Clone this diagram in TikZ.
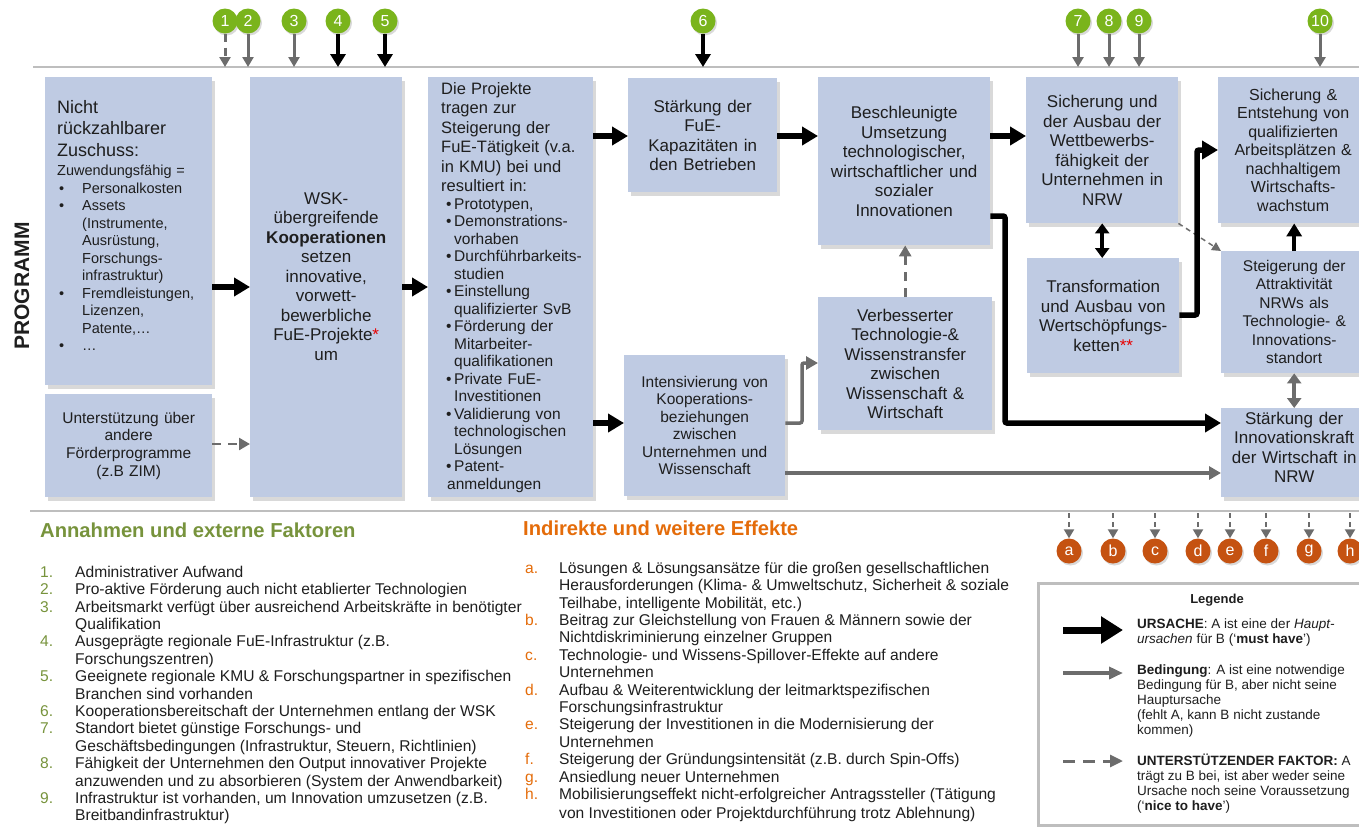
\documentclass[tikz,border=0pt]{standalone}
\usepackage{fontspec}
\setmainfont{Liberation Sans}
\usetikzlibrary{arrows.meta,shadows}

\definecolor{boxblue}{RGB}{191,203,227}
\definecolor{txt}{RGB}{30,30,30}
\definecolor{greenc}{RGB}{122,180,28}
\definecolor{orangec}{RGB}{197,82,17}
\definecolor{headgreen}{RGB}{119,147,60}
\definecolor{headorange}{RGB}{228,108,10}
\definecolor{arrowgray}{RGB}{108,108,108}
\definecolor{linegray}{RGB}{190,190,190}
\definecolor{starred}{RGB}{232,0,0}

% bullets in the funding box and in the project box
\newcommand{\zbul}{\hspace*{2pt}\makebox[23pt][l]{\textbullet}}
\newcommand{\zind}{\hspace*{25pt}}
\newcommand{\pbul}{\hspace*{5pt}\makebox[8pt][l]{\textbullet}}
\newcommand{\pind}{\hspace*{13pt}}

\begin{document}
\begin{tikzpicture}[x=1pt, y=-1pt,
  box/.style={anchor=north west, fill=boxblue, text=txt, inner xsep=6pt, inner ysep=0pt,
    align=center, font=\fontsize{17}{19.5}\selectfont,
    drop shadow={shadow xshift=2.5pt, shadow yshift=-3.5pt, opacity=.3}},
  numc/.style={circle, fill=greenc, text=white, minimum size=25pt, inner sep=0pt,
    font=\fontsize{16}{16}\selectfont,
    drop shadow={shadow xshift=1.5pt, shadow yshift=-2pt, opacity=.3}},
  letc/.style={numc, fill=orangec},
  cause/.style={line width=5.5pt, rounded corners=2pt, -{Triangle[length=16pt,width=18pt]}},
  cond/.style={draw=arrowgray, line width=3.5pt, rounded corners=2pt, -{Triangle[length=12pt,width=13pt]}},
  support/.style={draw=arrowgray, line width=3pt, dash pattern=on 9pt off 7pt, -{Triangle[length=11pt,width=12pt]}},
  tcause/.style={line width=4pt, -{Triangle[length=13pt,width=15pt]}},
  tcond/.style={draw=arrowgray, line width=3pt, -{Triangle[length=10pt,width=11pt]}},
  tsupport/.style={tcond, dash pattern=on 8pt off 6pt},
  bsupport/.style={draw=arrowgray, line width=2pt, dash pattern=on 5pt off 4pt, -{Triangle[length=9pt,width=10pt]}},
  sep/.style={draw=linegray, line width=1.5pt},
  list/.style={anchor=north west, inner sep=0pt, text=txt, font=\fontsize{15.6}{17.4}\selectfont},
  legtxt/.style={anchor=north west, inner sep=0pt, align=left, text=txt, font=\fontsize{13.5}{15}\selectfont}]

\useasboundingbox (0,0) rectangle (1359,828);

% separators
\coordinate (top) at (0,67);
\coordinate (bot) at (0,511);
\draw[sep] (33,67) -- (1359,67);
\draw[sep] (30,511) -- (1359,511);

\node[rotate=90, text=txt, font=\bfseries\fontsize{21}{21}\selectfont] (prog) at (22,286) {PROGRAMM};

% program boxes
\node[box, minimum width=167, minimum height=308, text width=143, inner xsep=12pt, align=left,
  font=\fontsize{14.5}{17.5}\selectfont] (A) at (45,77)
  {{\fontsize{18}{21.5}\selectfont Nicht\\rückzahlbarer\\Zuschuss:\par}
   \vspace{2pt}Zuwendungsfähig =\\
   \zbul Personalkosten\\
   \zbul Assets\\
   \zind(Instrumente,\\
   \zind Ausrüstung,\\
   \zind Forschungs-\\
   \zind infrastruktur)\\
   \zbul Fremdleistungen,\\
   \zind Lizenzen,\\
   \zind Patente,…\\
   \zbul …\\[-6pt]\mbox{}};
\node[box, minimum width=167, minimum height=103, text width=155,
  font=\fontsize{15.5}{17.7}\selectfont] (B) at (45,394)
  {Unterstützung über\\andere\\Förderprogramme\\(z.B ZIM)};
\node[box, minimum width=152, minimum height=420, text width=140] (C) at (250,77)
  {WSK-\\übergreifende\\\textbf{Kooperationen}\\setzen\\innovative,\\vorwett-\\bewerbliche\\
   FuE-Projekte\textcolor{starred}{*}\\um\\[2pt]\mbox{}};
\node[box, minimum width=165, minimum height=420, text width=153, align=left,
  font=\fontsize{15.5}{17.5}\selectfont] (D) at (428,77)
  {\leftskip=7pt\relax
   {\fontsize{16.5}{19.5}\selectfont Die Projekte\\tragen zur\\Steigerung der\\FuE-Tätigkeit (v.a.\\
    in KMU) bei und\\resultiert in:\par}
   \pbul Prototypen,\\
   \pbul Demonstrations-\\\pind vorhaben\\
   \pbul Durchführbarkeits-\\\pind studien\\
   \pbul Einstellung\\\pind qualifizierter SvB\\
   \pbul Förderung der\\\pind Mitarbeiter-\\\pind qualifikationen\\
   \pbul Private FuE-\\\pind Investitionen\\
   \pbul Validierung von\\\pind technologischen\\\pind Lösungen\\
   \pbul Patent-\\\pind anmeldungen};

% results
\node[box, minimum width=149, minimum height=114, text width=137] (E) at (628,78)
  {Stärkung der\\FuE-\\Kapazitäten in\\den Betrieben};
\node[box, minimum width=172, minimum height=168, text width=160] (F) at (818,77)
  {Beschleunigte\\Umsetzung\\technologischer,\\wirtschaftlicher und\\sozialer\\Innovationen};
\node[box, minimum width=161, minimum height=141, text width=149,
  font=\fontsize{15.5}{17.5}\selectfont] (G) at (624,355)
  {Intensivierung von\\Kooperations-\\beziehungen\\zwischen\\Unternehmen und\\Wissenschaft};
\node[box, minimum width=174, minimum height=133, text width=162] (H) at (818,297)
  {Verbesserter\\Technologie-\&\\Wissenstransfer\\zwischen\\Wissenschaft \&\\Wirtschaft};
\node[box, minimum width=152, minimum height=146, text width=140] (I) at (1026,77)
  {Sicherung und\\der Ausbau der\\Wettbewerbs-\\fähigkeit der\\Unternehmen in\\NRW};
\node[box, minimum width=152, minimum height=115, text width=140] (J) at (1027,258)
  {Transformation\\und Ausbau von\\Wertschöpfungs-\\ketten\textcolor{starred}{**}};
\node[box, minimum width=150, minimum height=146, text width=138,
  font=\fontsize{16}{18.5}\selectfont] (K) at (1218,77)
  {Sicherung \&\\Entstehung von\\qualifizierten\\Arbeitsplätzen \&\\nachhaltigem\\Wirtschafts-\\wachstum};
\node[box, minimum width=146, minimum height=122, text width=134,
  font=\fontsize{15.5}{18.5}\selectfont] (L) at (1221,251)
  {Steigerung der\\Attraktivität\\NRWs als\\Technologie- \&\\Innovations-\\standort};
\node[box, minimum width=146, minimum height=89, text width=134] (M) at (1221,408)
  {Stärkung der\\Innovationskraft\\der Wirtschaft in\\NRW\\[-9pt]\mbox{}};

% rows and columns of the connectors
\coordinate (rA) at (0,287);
\coordinate (rB) at (0,444);
\coordinate (rE) at (0,136);
\coordinate (rF) at (0,216);
\coordinate (rG) at (0,423);
\coordinate (rH) at (0,363);
\coordinate (rM) at (0,473);
\coordinate (rJ) at (0,315);
\coordinate (rK) at (0,150);
\coordinate (cF) at (1005,0);
\coordinate (cG) at (802,0);
\coordinate (cJ) at (1197,0);

\draw[cause] (A.east |- rA) -- (C.west |- rA);
\draw[support, line width=2.5pt] (B.east |- rB) -- (C.west |- rB);
\draw[cause] (C.east |- rA) -- (D.west |- rA);
\draw[cause] (D.east |- rE) -- (E.west |- rE);
\draw[cause] (E.east |- rE) -- (F.west |- rE);
\draw[cause] (F.east |- rE) -- (I.west |- rE);
\draw[cause] (D.east |- rG) -- (G.west |- rG);
\draw[cause] (F.east |- rF) -| (cF |- rG) -- (M.west |- rG);
\draw[cond] (G.east |- rG) -| (cG |- rH) -- (H.west |- rH);
\draw[cond] (G.east |- rM) -- (M.west |- rM);
\draw[support] (H.north) -- (H.north |- F.south);
\draw[line width=4pt, {Triangle[length=10pt,width=14pt]}-{Triangle[length=10pt,width=14pt]}] (I.south) -- (I.south |- J.north);
\draw[draw=arrowgray, line width=1.5pt, dash pattern=on 5pt off 4pt, -{Triangle[length=9pt,width=9pt]}] (I.south east) -- (L.north west);
\draw[cause] (J.east |- rJ) -| (cJ |- rK) -- (K.west |- rK);
\draw[tcause] (L.north) -- (L.north |- K.south);
\draw[draw=arrowgray, line width=4pt, {Triangle[length=10pt,width=14pt]}-{Triangle[length=10pt,width=14pt]}] (L.south) -- (L.south |- M.north);

% assumptions on top
\foreach \n/\x in {1/225,2/248,3/294,4/338,5/385,6/703,7/1078,8/1109,9/1139,10/1320}
  \node[numc] (asm\n) at (\x,21) {\n};
\draw[tsupport] (asm1) -- (asm1 |- top);
\draw[tcond] (asm2) -- (asm2 |- top);
\draw[tcond] (asm3) -- (asm3 |- top);
\draw[tcause] (asm4) -- (asm4 |- top);
\draw[tcause] (asm5) -- (asm5 |- top);
\draw[tcause] (asm6) -- (asm6 |- top);
\foreach \n in {7,8,9,10}
  \draw[tcond] (asm\n) -- (asm\n |- top);

% indirect effects below
\foreach \l/\x in {a/1069,b/1113,c/1155,d/1198,e/1230,f/1266,g/1309,h/1350} {
  \node[letc] (eff\l) at (\x,551) {\l};
  \draw[bsupport, shorten <=2pt] (eff\l |- bot) -- (eff\l);
}

% lists
\node[anchor=base west, inner sep=0pt, text=headgreen, font=\bfseries\fontsize{20.2}{20}\selectfont]
  (headA) at (40,537) {Annahmen und externe Faktoren};
\node[anchor=base west, inner sep=0pt, text=headorange, font=\bfseries\fontsize{20.2}{20}\selectfont]
  (headB) at (523,535) {Indirekte und weitere Effekte};

\node[list] (assume) at (40,565) {\begin{tabular}{@{}p{35pt}@{}l@{}}
  \textcolor{headgreen}{1.} & Administrativer Aufwand\\
  \textcolor{headgreen}{2.} & Pro-aktive Förderung auch nicht etablierter Technologien\\
  \textcolor{headgreen}{3.} & Arbeitsmarkt verfügt über ausreichend Arbeitskräfte in benötigter\\
   & Qualifikation\\
  \textcolor{headgreen}{4.} & Ausgeprägte regionale FuE-Infrastruktur (z.B.\\
   & Forschungszentren)\\
  \textcolor{headgreen}{5.} & Geeignete regionale KMU \& Forschungspartner in spezifischen\\
   & Branchen sind vorhanden\\
  \textcolor{headgreen}{6.} & Kooperationsbereitschaft der Unternehmen entlang der WSK\\
  \textcolor{headgreen}{7.} & Standort bietet günstige Forschungs- und\\
   & Geschäftsbedingungen (Infrastruktur, Steuern, Richtlinien)\\
  \textcolor{headgreen}{8.} & Fähigkeit der Unternehmen den Output innovativer Projekte\\
   & anzuwenden und zu absorbieren (System der Anwendbarkeit)\\
  \textcolor{headgreen}{9.} & Infrastruktur ist vorhanden, um Innovation umzusetzen (z.B.\\
   & Breitbandinfrastruktur)
  \end{tabular}};

\node[list] (effects) at (525,561) {\begin{tabular}{@{}p{34pt}@{}l@{}}
  \textcolor{headorange}{a.} & Lösungen \& Lösungsansätze für die großen gesellschaftlichen\\
   & Herausforderungen (Klima- \& Umweltschutz, Sicherheit \& soziale\\
   & Teilhabe, intelligente Mobilität, etc.)\\
  \textcolor{headorange}{b.} & Beitrag zur Gleichstellung von Frauen \& Männern sowie der\\
   & Nichtdiskriminierung einzelner Gruppen\\
  \textcolor{headorange}{c.} & Technologie- und Wissens-Spillover-Effekte auf andere\\
   & Unternehmen\\
  \textcolor{headorange}{d.} & Aufbau \& Weiterentwicklung der leitmarktspezifischen\\
   & Forschungsinfrastruktur\\
  \textcolor{headorange}{e.} & Steigerung der Investitionen in die Modernisierung der\\
   & Unternehmen\\
  \textcolor{headorange}{f.} & Steigerung der Gründungsintensität (z.B. durch Spin-Offs)\\
  \textcolor{headorange}{g.} & Ansiedlung neuer Unternehmen\\
  \textcolor{headorange}{h.} & Mobilisierungseffekt nicht-erfolgreicher Antragssteller (Tätigung\\[2pt]
   & von Investitionen oder Projektdurchführung trotz Ablehnung)
  \end{tabular}};

% legend
\draw[draw=linegray, line width=3pt] (1038,583) rectangle (1370,825);
\node[text=txt, font=\bfseries\fontsize{13}{13}\selectfont] (legtitle) at (1217,600) {Legende};
\coordinate (l1a) at (1063,630); \coordinate (l1b) at (1123,630);
\coordinate (l2a) at (1063,673); \coordinate (l2b) at (1123,673);
\coordinate (l3a) at (1063,761); \coordinate (l3b) at (1123,761);
\draw[line width=7pt, -{Triangle[length=22pt,width=26pt]}] (l1a) -- (l1b);
\draw[draw=arrowgray, line width=4pt, -{Triangle[length=14pt,width=12pt]}] (l2a) -- (l2b);
\draw[draw=arrowgray, line width=3pt, dash pattern=on 12pt off 8pt, -{Triangle[length=13pt,width=12pt]}] (l3a) -- (l3b);
\node[legtxt] (leg1) at (1137,619)
  {\textbf{URSACHE}: A ist eine der \textit{Haupt-}\\\textit{ursachen} für B (‘\textbf{must have}’)};
\node[legtxt] (leg2) at (1137,665)
  {\textbf{Bedingung}: A ist eine notwendige\\Bedingung für B, aber nicht seine\\Hauptursache\\
   (fehlt A, kann B nicht zustande\\kommen)};
\node[legtxt] (leg3) at (1137,754)
  {\textbf{UNTERSTÜTZENDER FAKTOR:} A\\trägt zu B bei, ist aber weder seine\\
   Ursache noch seine Voraussetzung\\(‘\textbf{nice to have}’)};
\end{tikzpicture}
\end{document}
